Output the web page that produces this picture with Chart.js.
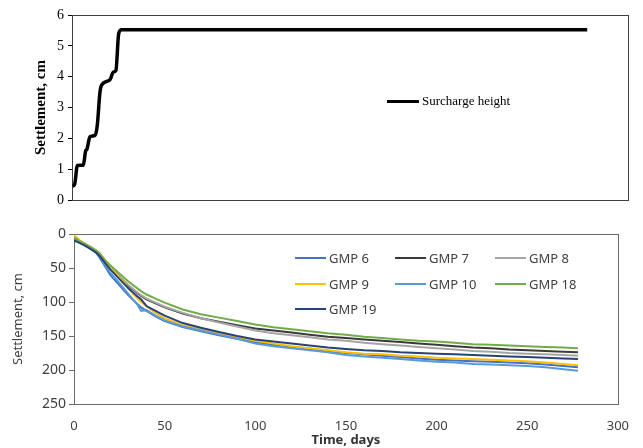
<!DOCTYPE html>
<html>
<head>
<meta charset="utf-8">
<script src="https://cdn.jsdelivr.net/npm/chart.js@4.4.1/dist/chart.umd.min.js"></script>
<style>
  html, body { margin: 0; padding: 0; background: #fff; }
  #wrap { position: relative; width: 643px; height: 448px; }
  #topBox { position: absolute; left: 0; top: 0; width: 643px; height: 218px; }
  #botBox { position: absolute; left: 0; top: 218px; width: 643px; height: 230px; }
  canvas { display: block; }
  .leg { position: absolute; display: flex; align-items: center; white-space: nowrap; }
  .leg .ln { display: inline-block; margin-right: 3px; }
  .serif { font-family: "Liberation Serif", "Times New Roman", serif; font-size: 13px; color: #000; }
  .sans { font-family: "Noto Sans", sans-serif; font-size: 13px; color: #404040; }
</style>
</head>
<body>
<div id="wrap">
  <div id="topBox"><canvas id="topChart" width="643" height="218"></canvas></div>
  <div id="botBox"><canvas id="botChart" width="643" height="230"></canvas></div>
  <div id="legends"></div>
</div>
<script>
// ---- top panel: surcharge height ----
const surchargeDays   = [0.3, 1.4, 2.9, 6.1, 7.4, 8.0, 9.7, 12.4, 13.6, 15.1, 16.0, 20.5, 22.3, 23.7, 25.2, 26.8, 278];
const surchargeHeight = [0.45, 0.5, 1.12, 1.13, 1.6, 1.64, 2.05, 2.1, 2.4, 3.5, 3.73, 3.9, 4.15, 4.2, 5.4, 5.52, 5.52];
const topTicks = [0, 1, 2, 3, 4, 5, 6];

// ---- bottom panel: settlement gauges ----
const days = [0, 3, 6, 9, 12, 14, 17, 20, 25, 30, 35, 37, 40, 45, 50, 60, 70, 80, 90, 100,
              110, 120, 130, 140, 150, 160, 170, 180, 190, 200, 210, 220, 230, 240, 250, 260, 270, 278];

const gmp6  = [8, 12, 16, 21, 27, 34, 47, 60, 75, 90, 103, 108, 113, 121, 128, 137, 143, 149, 154, 159,
               163, 166, 169, 172, 175, 177, 179, 181, 183, 185, 186, 187, 188, 189, 190, 192, 194, 196];
const gmp7  = [7, 12, 16, 20, 25, 30, 40, 50, 63, 76, 87, 91, 96, 102, 108, 117, 124, 129, 134, 139,
               142, 145, 148, 151, 153, 155, 157, 159, 161, 163, 165, 167, 168, 170, 171, 172, 173, 174];
const gmp8  = [5, 10, 15, 19, 24, 29, 39, 49, 62, 75, 86, 90, 95, 101, 107, 116, 124, 130, 136, 142,
               146, 149, 152, 155, 157, 160, 162, 164, 166, 168, 170, 172, 173, 175, 176, 177, 178, 179];
const gmp9  = [2, 9, 14, 19, 24, 28, 38, 48, 64, 80, 95, 100, 106, 116, 124, 134, 140, 146, 151, 157,
               161, 165, 168, 171, 174, 176, 177, 179, 180, 182, 183, 184, 185, 186, 187, 189, 191, 193];
const gmp10 = [6, 11, 15, 20, 26, 32, 45, 57, 72, 88, 104, 113, 112, 120, 127, 136, 142, 148, 154, 161,
               165, 168, 171, 174, 178, 180, 182, 184, 186, 188, 189, 191, 192, 193, 194, 196, 199, 201];
const gmp18 = [5, 10, 15, 19, 24, 28, 38, 46, 58, 70, 80, 84, 89, 95, 101, 111, 118, 123, 128, 133,
               137, 140, 143, 146, 148, 151, 153, 155, 157, 158, 160, 162, 163, 164, 165, 166, 167, 168];
const gmp19 = [10, 13, 17, 22, 27, 32, 42, 52, 66, 80, 92, 96, 106, 113, 120, 131, 138, 144, 150, 155,
               158, 161, 164, 167, 169, 171, 172, 174, 175, 176, 177, 178, 179, 180, 181, 182, 183, 184];

const seriesNames  = ['GMP 6', 'GMP 7', 'GMP 8', 'GMP 9', 'GMP 10', 'GMP 18', 'GMP 19'];
const seriesValues = [gmp6, gmp7, gmp8, gmp9, gmp10, gmp18, gmp19];
const seriesColors = ['#4472C4', '#3a3a3a', '#A5A5A5', '#FFC000', '#5B9BD5', '#70AD47', '#264478'];
const bottomTicks  = [0, 50, 100, 150, 200, 250];
const timeTicks    = [0, 50, 100, 150, 200, 250, 300];

const toPoints = (xs, ys) => xs.map((x, i) => ({ x: x, y: ys[i] }));

// full frame around the plot area (Excel-style plot border)
const frame = color => ({
    id: 'frame',
    beforeDatasetsDraw(chart) {
        const a = chart.chartArea;
        const ctx = chart.ctx;
        ctx.save();
        ctx.strokeStyle = color;
        ctx.lineWidth = 1;
        ctx.strokeRect(Math.round(a.left) + 0.5, Math.round(a.top) + 0.5,
                       Math.round(a.right - a.left), Math.round(a.bottom - a.top));
        ctx.restore();
    }
});

// ==========================================
// 1. Top chart
// ==========================================
new Chart(document.getElementById('topChart'), {
    type: 'line',
    data: {
        datasets: [{
            label: 'Surcharge height',
            data: toPoints(surchargeDays, surchargeHeight),
            borderColor: '#000',
            borderWidth: 3.5,
            pointRadius: 0,
            cubicInterpolationMode: 'monotone',
            fill: false
        }]
    },
    options: {
        responsive: false,
        animation: false,
        devicePixelRatio: 1,
        layout: { padding: { left: 0, right: 15, top: 15, bottom: 0 } },
        plugins: { legend: { display: false }, tooltip: { enabled: false } },
        scales: {
            x: {
                type: 'linear', min: 0, max: 300,
                ticks: { display: false },
                grid: { display: false, drawTicks: false },
                border: { display: true, color: '#000', width: 1 },
                afterFit: s => { s.height = 18; }
            },
            y: {
                min: 0, max: 6,
                afterBuildTicks: s => { s.ticks = topTicks.map(v => ({ value: v })); },
                ticks: { font: { family: 'Liberation Serif', size: 14 }, color: '#000', padding: 4, autoSkip: false },
                grid: { drawOnChartArea: false, drawTicks: true, tickLength: 4, color: '#000' },
                border: { display: true, color: '#000', width: 1 },
                title: {
                    display: true, text: 'Settlement, cm', color: '#000',
                    font: { family: 'Liberation Serif', size: 15, weight: 'bold' },
                    padding: { top: 32, bottom: 0 }
                },
                afterFit: s => { s.width = 72; }
            }
        }
    },
    plugins: [frame('#404040')]
});

// ==========================================
// 2. Bottom chart
// ==========================================
new Chart(document.getElementById('botChart'), {
    type: 'line',
    data: {
        datasets: seriesNames.map((name, i) => ({
            label: name,
            data: toPoints(days, seriesValues[i]),
            borderColor: seriesColors[i],
            borderWidth: 2,
            pointRadius: 0,
            tension: 0,
            fill: false,
            order: seriesNames.length - i
        }))
    },
    options: {
        responsive: false,
        animation: false,
        devicePixelRatio: 1,
        layout: { padding: { left: 0, right: 14, top: 16, bottom: 0 } },
        plugins: { legend: { display: false }, tooltip: { enabled: false } },
        scales: {
            x: {
                type: 'linear', min: 0, max: 300,
                afterBuildTicks: s => { s.ticks = timeTicks.map(v => ({ value: v })); },
                ticks: { font: { family: 'Noto Sans', size: 13 }, color: '#404040', padding: 14, maxRotation: 0, autoSkip: false },
                grid: { display: false, drawTicks: false },
                border: { display: true, color: '#6b6b6b', width: 1 },
                title: {
                    display: true, text: 'Time, days', color: '#333',
                    font: { family: 'Noto Sans', size: 13, weight: 'bold' },
                    padding: { top: 0, bottom: 0 }
                },
                afterFit: s => { s.height = 44; }
            },
            y: {
                reverse: true, min: 0, max: 250,
                afterBuildTicks: s => { s.ticks = bottomTicks.map(v => ({ value: v })); },
                ticks: { font: { family: 'Noto Sans', size: 14 }, color: '#404040', padding: 3, autoSkip: false },
                grid: { drawOnChartArea: false, drawTicks: true, tickLength: 5, color: '#6b6b6b' },
                border: { display: true, color: '#6b6b6b', width: 1 },
                title: {
                    display: true, text: 'Settlement, cm', color: '#404040',
                    font: { family: 'Noto Sans', size: 13 },
                    padding: { top: 10, bottom: 0 }
                },
                afterFit: s => { s.width = 74; }
            }
        }
    },
    plugins: [frame('#6b6b6b')]
});

// ==========================================
// 3. Legends (HTML)
// ==========================================
const legends = document.getElementById('legends');
function addLegend(x, y, text, color, width, cls) {
    const el = document.createElement('div');
    el.className = 'leg ' + cls;
    el.style.left = x + 'px';
    el.style.top = (y - 10) + 'px';
    el.style.height = '20px';
    el.innerHTML = `<span class="ln" style="width:${cls === 'serif' ? 32 : 31}px;height:0;border-top:${width}px solid ${color}"></span><span>${text}</span>`;
    legends.appendChild(el);
}
addLegend(387, 101, 'Surcharge height', '#000', 3.5, 'serif');
seriesNames.forEach((name, i) => {
    const col = i % 3, row = Math.floor(i / 3);
    addLegend(295 + col * 100, 258 + row * 25.5, name, seriesColors[i], 2, 'sans');
});
</script>
</body>
</html>
